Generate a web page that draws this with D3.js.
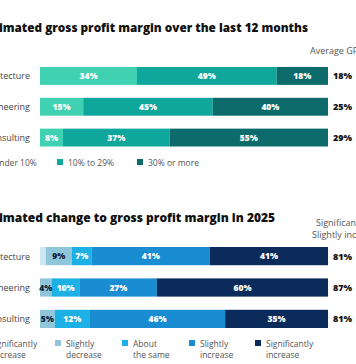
<!DOCTYPE html>
<html><head><meta charset="utf-8">
<script src="https://cdn.jsdelivr.net/npm/d3@7"></script>
<style>
html,body{margin:0;padding:0;background:#fff;overflow:hidden}
svg{display:block;font-family:"Open Sans",Lato,sans-serif}
</style></head>
<body>
<svg id="c" width="356" height="364"></svg>
<script>
// ---------- data ----------
const categories = ["Architecture", "Engineering", "Consulting"];

const title1 = "Estimated gross profit margin over the last 12 months";
const marginSeries = ["Under 10%", "10% to 29%", "30% or more"];
const marginUnder10 = [34, 15, 8];
const margin10to29 = [49, 45, 37];
const margin30plus = [18, 40, 55];
const avgLabel = "Average GPM";
const avgGPM = [18, 25, 29];

const title2 = "Estimated change to gross profit margin in 2025";
const changeSeries = [["Significantly", "decrease"], ["Slightly", "decrease"], ["About", "the same"], ["Slightly", "increase"], ["Significantly", "increase"]];
const sigDecrease = [2, 0, 0];
const slightDecrease = [9, 4, 5];
const aboutSame = [7, 10, 12];
const slightIncrease = [41, 27, 46];
const sigIncrease = [41, 60, 35];
const increaseHeader = ["Significantly +", "Slightly increase"];
const increaseTotal = [81, 87, 81];

// ---------- styles ----------
const tealColors = ["#40d0b2", "#0fa69b", "#0d6b6c"];
const blueColors = ["#cfe8f2", "#8fc6da", "#1db0e5", "#1a8dd2", "#0b2b5b"];
const blueText = ["#1a2a3a", "#10243a", "#ffffff", "#ffffff", "#ffffff"];

const svg = d3.select("#c");
const x = d3.scaleLinear().domain([0, 1]).range([40, 328]);

function fitTitle(g, text, hiddenPrefix, endX, y) {
  const base = 13.5;
  const t = g.append("text").attr("x", endX).attr("y", y)
    .attr("text-anchor", "end").attr("font-size", base).attr("font-weight", 800)
    .attr("fill", "#111").text(text);
  const probe = g.append("text").attr("font-size", base).attr("font-weight", 800).text(hiddenPrefix);
  const W = t.node().getComputedTextLength();
  const w = probe.node().getComputedTextLength() + 1.5;
  probe.remove();
  const k = endX / (W - w);
  t.attr("font-size", base * k);
}

function drawChart(opts) {
  const g = svg.append("g");
  fitTitle(g, opts.title, "Est", opts.titleEnd, opts.titleY);

  const y = d3.scaleBand().domain(categories).range([opts.y0, opts.y0 + 3 * opts.step]).paddingInner(0.42).paddingOuter(0);

  categories.forEach((cat, i) => {
    const vals = opts.series.map(s => s[i]);
    const total = d3.sum(vals);
    let cum = 0;
    const segs = vals.map((v, k) => { const s = {v, k, a: cum / total, b: (cum + v) / total}; cum += v; return s; });
    const row = g.append("g");
    row.selectAll("rect").data(segs).join("rect")
      .attr("x", d => x(d.a)).attr("width", d => x(d.b) - x(d.a))
      .attr("y", y(cat)).attr("height", y.bandwidth())
      .attr("fill", d => opts.colors[d.k]);
    row.selectAll("text.v").data(segs.filter(d => d.v >= opts.minLabel)).join("text")
      .attr("class", "v")
      .attr("x", d => (x(d.a) + x(d.b)) / 2).attr("y", y(cat) + y.bandwidth() / 2 + 3)
      .attr("text-anchor", "middle").attr("font-size", 8.5).attr("font-weight", 800)
      .attr("fill", d => opts.textColors[d.k]).text(d => d.v + "%");
    g.append("text").attr("x", 30).attr("y", y(cat) + y.bandwidth() / 2 + 3.5)
      .attr("text-anchor", "end").attr("font-size", 9).attr("fill", "#444").text(cat);
    g.append("text").attr("x", 333).attr("y", y(cat) + y.bandwidth() / 2 + 3.5)
      .attr("font-size", 9).attr("font-weight", 800).attr("fill", "#111").text(opts.right[i] + "%");
  });

  opts.legendX.forEach((lx, k) => {
    g.append("rect").attr("x", lx).attr("y", opts.legendY - 7).attr("width", 6).attr("height", 6)
      .attr("fill", opts.colors[k]);
    const t = g.append("text").attr("x", lx + 11).attr("y", opts.legendY).attr("font-size", 8.5)
      .attr("fill", "#555");
    opts.legendLines[k].forEach((w, j) => t.append("tspan").attr("x", lx + 11).attr("dy", j === 0 ? 0 : 10.5).text(w));
  });
  return g;
}

drawChart({
  title: title1, titleEnd: 308, titleY: 32,
  y0: 67, step: 26.5,
  series: [marginUnder10, margin10to29, margin30plus],
  colors: tealColors, textColors: ["#fff", "#fff", "#fff"], minLabel: 3,
  right: avgGPM,
  legendX: [-18, 57, 137], legendY: 166,
  legendLines: marginSeries.map(s => [s])
});
svg.append("text").attr("x", 310).attr("y", 54).attr("font-size", 9).attr("fill", "#555").text(avgLabel);

drawChart({
  title: title2, titleEnd: 275, titleY: 222,
  y0: 247, step: 27,
  series: [sigDecrease, slightDecrease, aboutSame, slightIncrease, sigIncrease],
  colors: blueColors, textColors: blueText, minLabel: 3,
  right: increaseTotal,
  legendX: [-21, 55, 122, 189, 255], legendY: 347,
  legendLines: changeSeries
});
const hdr = svg.append("text").attr("font-size", 9).attr("fill", "#555");
hdr.append("tspan").attr("x", 316).attr("y", 226).text(increaseHeader[0]);
hdr.append("tspan").attr("x", 312).attr("y", 238).text(increaseHeader[1]);
</script>
</body></html>
